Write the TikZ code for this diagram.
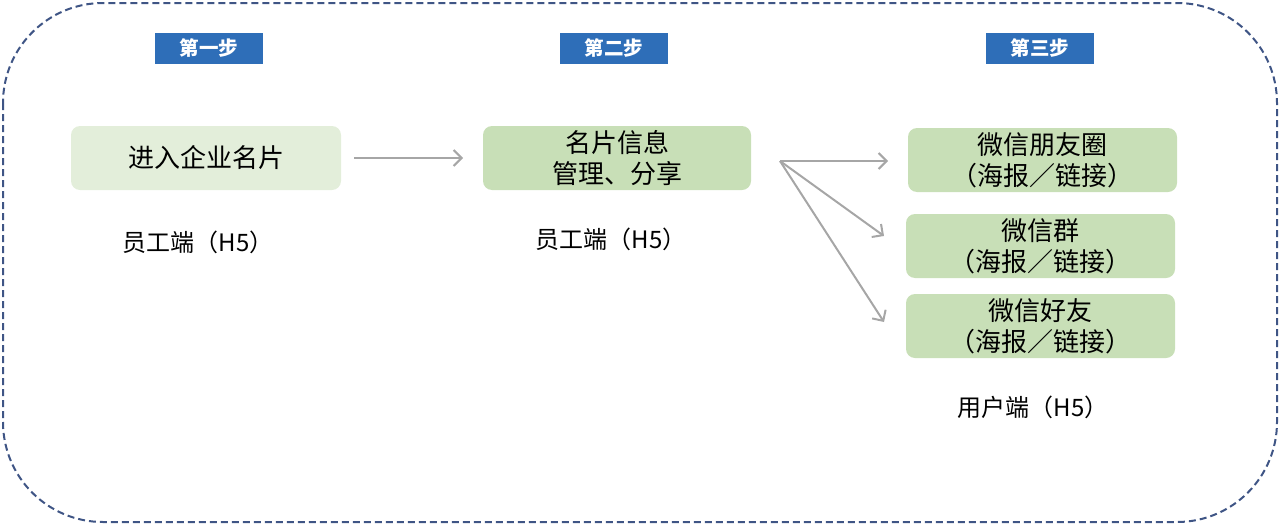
\documentclass[tikz,border=0pt]{standalone}
\usepackage{fontspec}
\setmainfont{Noto Sans CJK SC}
\usetikzlibrary{arrows.meta}
\definecolor{stepblue}{HTML}{2E6EB8}
\definecolor{lightg}{HTML}{E3EEDA}
\definecolor{midg}{HTML}{C8DFB7}
\definecolor{arrowgray}{HTML}{A6A6A6}
\definecolor{frameblue}{HTML}{3F5585}
\begin{document}
\begin{tikzpicture}[x=1pt,y=-1pt,
  stepbox/.style={fill=stepblue, text=white, minimum width=108pt, minimum height=31pt, inner sep=0pt, font=\fontsize{19.5}{22}\selectfont\bfseries},
  card/.style={rounded corners=9pt, minimum width=270pt, minimum height=64pt, inner sep=0pt, align=center, font=\fontsize{26}{31}\selectfont},
  lab/.style={font=\fontsize{24}{28}\selectfont},
  conn/.style={draw=arrowgray, line width=2pt, -{Straight Barb[length=8pt,width=16pt,line width=2pt]}}]
\useasboundingbox (0,0) rectangle (1280,525);
\draw[frameblue, line width=2pt, dash pattern=on 7pt off 4pt, rounded corners=100pt] (3,3) rectangle (1277,522);
\node[stepbox] (s1) at (209,48.5) {第一步};
\node[stepbox] (s2) at (614,48.5) {第二步};
\node[stepbox] (s3) at (1040,48.5) {第三步};
\node[card, fill=lightg] (b1) at (206,158) {进入企业名片};
\node[card, fill=midg, minimum width=268pt] (b2) at (617,158) {名片信息\\管理、分享};
\node[card, fill=midg, minimum width=269pt] (b3) at (1042.5,160) {微信朋友圈\\（海报／链接）};
\node[card, fill=midg, minimum width=269pt] (b4) at (1040.5,246) {微信群\\（海报／链接）};
\node[card, fill=midg, minimum width=269pt] (b5) at (1040.5,326) {微信好友\\（海报／链接）};
\node[lab] (l1) at (198,242) {员工端（H5）};
\node[lab] (l2) at (611,239) {员工端（H5）};
\node[lab] (l3) at (1033,407) {用户端（H5）};
\coordinate (a1s) at (354,158);
\coordinate (a1e) at (463,158);
\coordinate (fan) at (780,161);
\coordinate (e3) at (888,161);
\coordinate (e4) at (884,236);
\coordinate (e5) at (884,322);
\draw[conn] (a1s) -- (a1e);
\draw[conn] (fan) -- (e3);
\draw[conn] (fan) -- (e4);
\draw[conn] (fan) -- (e5);
\end{tikzpicture}
\end{document}
